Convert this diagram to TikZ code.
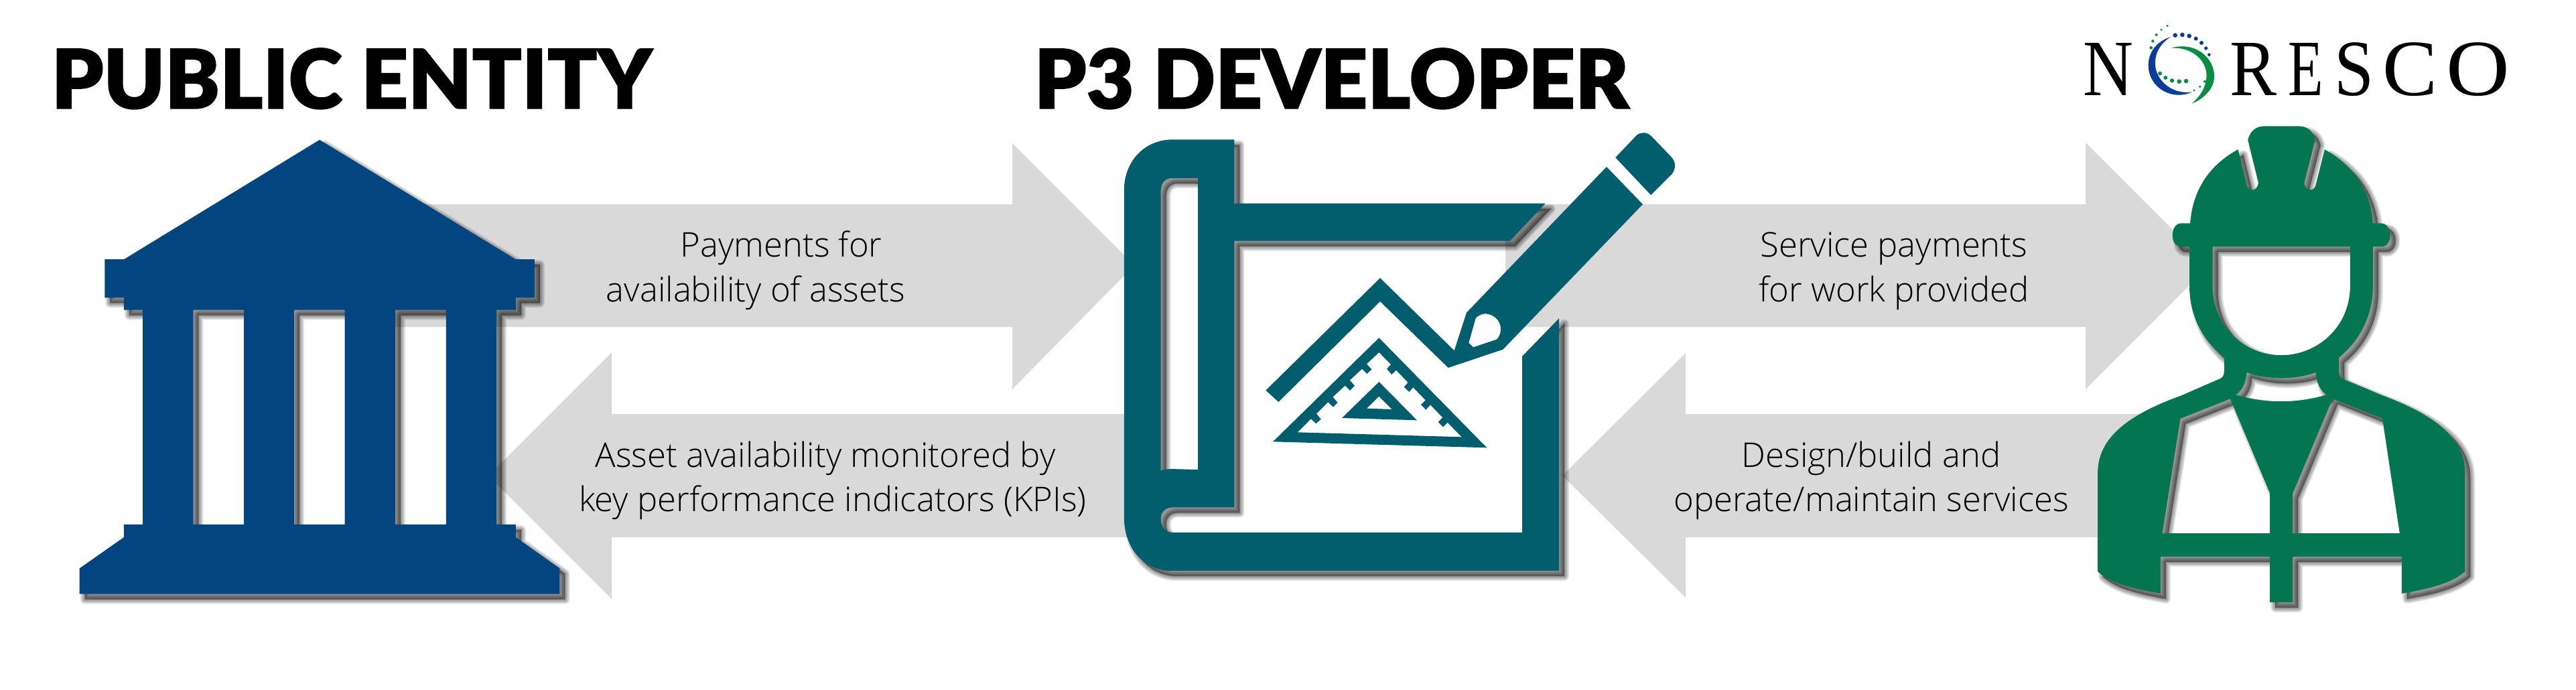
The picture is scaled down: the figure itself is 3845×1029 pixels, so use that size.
\documentclass[tikz,border=0pt]{standalone}
\usepackage{fontspec}
\usepackage{graphicx}
\newfontfamily\titlefont[FakeBold=1.2]{Lato Black}
\newfontfamily\bodyfont{Open Sans Light}
\newfontfamily\logofont{Liberation Serif}
\definecolor{bluec}{HTML}{03457F}
\definecolor{tealc}{HTML}{025E6C}
\definecolor{greenc}{HTML}{037550}
\definecolor{arrowc}{HTML}{D9D9D9}
\definecolor{logoblue}{HTML}{0B3C9A}
\definecolor{logogreen}{HTML}{0A8C45}
\tikzset{
  flow/.style={fill=arrowc},
  titletext/.style={font=\titlefont\fontsize{30.6}{32}\selectfont,text=black,inner sep=0pt,anchor=base west},
  bodytext/.style={font=\bodyfont\fontsize{12.7}{16.4}\selectfont,text=black,inner sep=0pt,anchor=base},
  logotext/.style={font=\logofont\fontsize{29.8}{32}\selectfont,text=black,inner sep=0pt,anchor=base west},
  zonea/.style={x=.15944pt,y=-.16406pt},
  zoneb/.style={shift={(1600,150)},x=.15944pt,y=-.11958pt},
  zonec/.style={shift={(3050,0)},x=.12676pt,y=-.16406pt},
  zoned/.style={shift={(1850,400)},x=.08333pt,y=-.08333pt},
  zonee/.style={shift={(3100,20)},x=.08333pt,y=-.08333pt},
}
\newcommand{\softshape}[2]{%
  \foreach \w in {14,11,8,5,2}{%
    \path[fill=black,draw=black,even odd rule,opacity=.1,line join=round,line width=\w*.25pt,xshift=2pt,yshift=-2pt] #2;
  }%
  \fill[#1,even odd rule] #2;
}
\begin{document}
\begin{tikzpicture}[x=.25pt,y=-.25pt]
\useasboundingbox (0,0) rectangle (3845,1029);
\fill[white] (0,0) rectangle (3845,1029);

% flow arrows
\fill[flow] (550,305) -- (1511,305) -- (1511,214) -- (1693,396) -- (1511,581) -- (1511,488) -- (550,488) -- cycle;
\fill[flow] (1700,618) -- (913,618) -- (913,526) -- (729,710) -- (913,894) -- (913,802) -- (1700,802) -- cycle;
\fill[flow] (2247,305) -- (3113,305) -- (3113,213) -- (3297,397) -- (3113,581) -- (3113,488) -- (2247,488) -- cycle;
\fill[flow] (3210,618) -- (2516,618) -- (2516,527) -- (2332,710) -- (2516,892) -- (2516,802) -- (3210,802) -- cycle;

% titles
\node[titletext] (pubtitle) at (76,162) {PUBLIC ENTITY};
\node[titletext] (devtitle) at (1543,162) {P3 DEVELOPER};

% flow labels
\node[bodytext] (payone) at (1166,383) {Payments for};
\node[bodytext] (paytwo) at (1128,450) {availability of assets};
\node[bodytext] (kpione) at (1232,697) {Asset availability monitored by};
\node[bodytext] (kpitwo) at (1243,763) {key performance indicators (KPIs)};
\node[bodytext] (svcone) at (2827,383) {Service payments};
\node[bodytext] (svctwo) at (2827,450) {for work provided};
\node[bodytext] (dboone) at (2793,697) {Design/build and};
\node[bodytext] (dbotwo) at (2793,763) {operate/maintain services};

% building
\begin{scope}[zonea]
\softshape{bluec}{
  (748,318) -- (1207,590) -- (1251,590) -- (1251,677) -- (1207,677) -- (1207,705) -- (1162,705)
  -- (1162,1193) -- (1207,1193) -- (1207,1222) -- (1310,1293) -- (1310,1351) -- (186,1351) -- (186,1293)
  -- (290,1222) -- (290,1193) -- (334,1193) -- (334,705) -- (290,705) -- (290,677) -- (245,677) -- (245,590) -- (290,590) -- cycle
  (452,705) rectangle (571,1193)
  (688,705) rectangle (807,1193)
  (925,705) rectangle (1044,1193)
}
\end{scope}

% scroll
\begin{scope}[zoneb]
\softshape{tealc}{
  (235,122) -- (380,122) -- (380,321) -- (1108,321) -- (1025,438) -- (380,438) -- (380,1270) -- (235,1270)
  .. controls (218,1270) and (208,1285) .. (208,1305)
  .. controls (208,1330) and (218,1348) .. (235,1348)
  -- (1054,1348) -- (1054,798) -- (1140,680) -- (1140,1468) -- (235,1468)
  .. controls (170,1468) and (122,1400) .. (122,1300)
  -- (122,280) .. controls (122,190) and (170,122) .. (235,122) -- cycle
  (235,242) -- (295,242) -- (295,1152) -- (235,1150)
  .. controls (225,1150) and (215,1152) .. (208,1155)
  -- (208,280) .. controls (208,258) and (218,242) .. (235,242) -- cycle
}
% pencil cap
\fill[tealc] (1272,178) -- (1322,108) .. controls (1332,98) and (1345,98) .. (1355,110) -- (1402,175)
  .. controls (1414,192) and (1414,212) .. (1404,230) -- (1355,295) -- cycle;
\end{scope}

% pencil with drawn chevron, and set square
\begin{scope}[zoned]
\fill[tealc,even odd rule]
  (630,45) -- (962,370) -- (1017,200) -- (1644,-453) -- (1806,-285) -- (1180,365) -- (935,447) -- (630,150) -- (175,600) -- (118,548) -- cycle
  (1027,335) -- (1058,225) .. controls (1075,208) and (1090,205) .. (1105,205)
  .. controls (1145,210) and (1170,240) .. (1170,272)
  .. controls (1170,290) and (1165,308) .. (1152,320) -- (1047,355) -- cycle;
\fill[tealc,even odd rule]
  (625,313) -- (1108,805) -- (150,778) -- cycle
  (625,378) -- (678,432) -- (660,452) -- (682,477) -- (702,458) -- (755,513) -- (737,533) -- (760,555) -- (778,535)
  -- (833,592) -- (813,612) -- (835,635) -- (855,613) -- (910,670) -- (890,690) -- (912,712) -- (932,692) -- (995,757)
  -- (260,736) -- (320,676) -- (343,697) -- (365,677) -- (345,653) -- (397,601) -- (420,623) -- (440,603) -- (418,578)
  -- (473,527) -- (495,549) -- (516,527) -- (494,503) -- (549,452) -- (571,474) -- (592,454) -- (570,430) -- cycle
  (625,510) -- (795,682) -- (459,672) -- cycle
  (625,575) -- (683,633) -- (570,629) -- cycle;
\end{scope}

% worker
\begin{scope}[zonec]
\softshape{greenc}{
  (405,508) -- (432,508) .. controls (440,430) and (490,375) .. (573,340) -- (598,420)
  .. controls (603,437) and (630,437) .. (633,415) -- (602,318)
  .. controls (610,295) and (630,287) .. (650,287) -- (750,287)
  .. controls (775,287) and (792,295) .. (800,318) -- (768,415)
  .. controls (770,437) and (798,437) .. (802,420) -- (828,340)
  .. controls (910,375) and (962,430) .. (970,508) -- (995,508)
  .. controls (1010,508) and (1021,520) .. (1021,535)
  .. controls (1021,550) and (1010,561) .. (995,561) -- (970,561) -- (970,650)
  .. controls (970,720) and (930,775) .. (870,813) -- (870,845)
  .. controls (870,855) and (875,860) .. (885,863) -- (1000,900)
  .. controls (1120,935) and (1241,985) .. (1241,1075) -- (1241,1300)
  .. controls (1200,1328) and (1130,1340) .. (1055,1350) -- (1055,1266) -- (734,1266) -- (734,1370) -- (667,1370) -- (667,1266)
  -- (345,1266) -- (345,1350) .. controls (270,1340) and (200,1328) .. (160,1300) -- (160,1075)
  .. controls (160,985) and (280,935) .. (405,900) -- (515,863)
  .. controls (527,860) and (532,855) .. (532,845) -- (532,813)
  .. controls (470,775) and (430,720) .. (430,650) -- (430,561) -- (405,561)
  .. controls (390,561) and (380,550) .. (380,535)
  .. controls (380,520) and (390,508) .. (405,508) -- cycle
  (498,561) -- (903,561) -- (903,650)
  .. controls (903,745) and (805,808) .. (700,808)
  .. controls (595,808) and (498,745) .. (498,650) -- cycle
  (598,847) .. controls (630,856) and (665,860) .. (700,860)
  .. controls (735,860) and (770,856) .. (802,847)
  .. controls (803,870) and (815,888) .. (833,898)
  .. controls (790,908) and (745,913) .. (700,913)
  .. controls (655,913) and (610,908) .. (566,898)
  .. controls (585,888) and (597,870) .. (598,847) -- cycle
  (403,952) -- (550,907) -- (667,1122) -- (667,1213) -- (350,1213) -- cycle
  (998,952) -- (851,907) -- (734,1122) -- (734,1213) -- (1049,1213) -- cycle
}
\end{scope}

% logo swirl
\begin{scope}[zonee]
\fill[logoblue] (420,105) .. controls (360,125) and (320,170) .. (320,232)
  .. controls (320,310) and (385,365) .. (455,365) .. controls (480,365) and (500,360) .. (515,352)
  .. controls (440,362) and (375,320) .. (355,255) .. controls (340,195) and (365,140) .. (420,105) -- cycle;
\fill[logogreen] (422,155) .. controls (470,140) and (540,145) .. (585,200)
  .. controls (630,255) and (620,320) .. (585,355) .. controls (565,378) and (540,395) .. (515,403)
  .. controls (555,370) and (585,320) .. (580,265) .. controls (570,195) and (500,150) .. (422,155) -- cycle;
\foreach \px/\py/\r in {440/98/10,472/96/10,503/101/10,533/113/9,558/132/9,578/156/8,592/185/7}
  \fill[logoblue] (\px,\py) circle [radius=\r];
\foreach \px/\py/\r in {405/56/5,378/73/5,356/96/6,340/124/6.5,332/154/7,372/269/9,397/288/9,426/301/9.5,458/305/10,489/303/10,525/345/5,551/328/5.5,573/305/6}
  \fill[logogreen] (\px,\py) circle [radius=\r];
\end{scope}
\node[logotext] (logon) at (3109,142) {\scalebox{.87}[1]{N}};
\node[logotext] (logor) at (3328,142) {\scalebox{.88}[1]{R}};
\node[logotext] (logoe) at (3415,142) {\scalebox{.72}[1]{E}};
\node[logotext] (logos) at (3484,142) {\scalebox{.89}[1]{S}};
\node[logotext] (logoc) at (3556,142) {\scalebox{1.03}[1]{C}};
\node[logotext] (logoo) at (3651,142) {\scalebox{1.1}[1]{O}};
\end{tikzpicture}
\end{document}
